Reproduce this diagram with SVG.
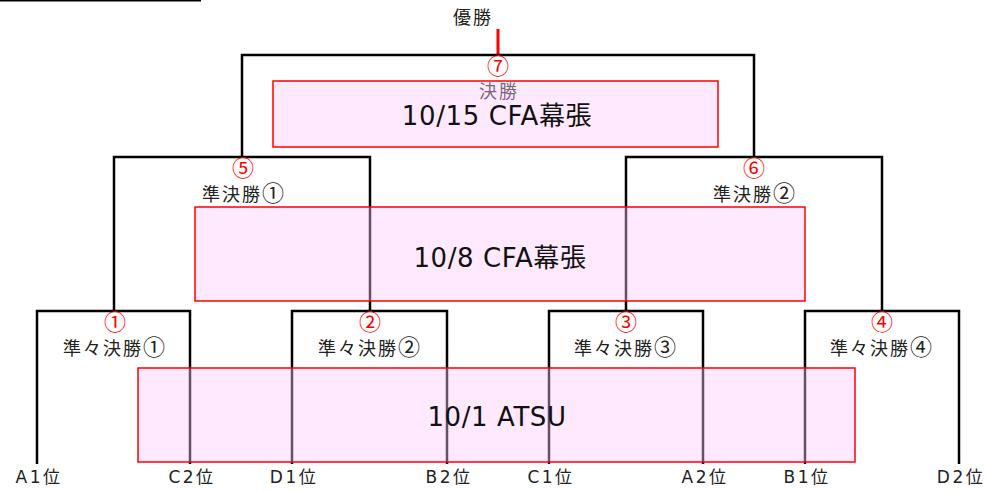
<svg xmlns="http://www.w3.org/2000/svg" width="986" height="492" viewBox="0 0 986 492">
<style>
.ln{stroke:#000;stroke-width:2.5;fill:none}
.red{stroke:#f00;stroke-width:3;fill:none}
.box{fill:rgb(255,200,255);fill-opacity:0.4;stroke:#f00;stroke-width:1.5}
.jp{font-family:"Noto Sans CJK JP","DejaVu Sans",sans-serif;font-size:18px;fill:#222;text-anchor:middle;letter-spacing:2px}
.c{font-size:22px}
.num{font-family:"Noto Sans CJK JP",sans-serif;font-size:22px;fill:#f00;text-anchor:middle}
.big{font-family:"DejaVu Sans","Noto Sans CJK JP",sans-serif;font-size:26px;fill:#111;text-anchor:middle;letter-spacing:0.6px}
.lbl{font-family:"DejaVu Sans","Noto Sans CJK JP",sans-serif;font-size:17px;fill:#222;text-anchor:middle;letter-spacing:2.5px}
</style>
<line x1="0" y1="0.5" x2="201" y2="0.5" stroke="#000" stroke-width="2"/>
<g id="connectors">
<line class="red" x1="498" y1="29" x2="498" y2="55"/>
<polyline class="ln" points="242,157 242,55 754,55 754,157"/>
<polyline class="ln" points="114,312 114,157 370,157 370,312"/>
<polyline class="ln" points="626,312 626,157 882,157 882,312"/>
<polyline class="ln" points="37,464 37,311 190,311 190,464"/>
<polyline class="ln" points="292,464 292,311 447,311 447,464"/>
<polyline class="ln" points="549,464 549,311 703,311 703,464"/>
<polyline class="ln" points="805,464 805,311 959,311 959,464"/>
</g>
<g id="champion">
<text class="jp" x="473" y="24">優勝</text>
</g>
<g id="final">
<text class="num" x="498" y="74">⑦</text>
<text class="jp" x="499" y="98">決勝</text>
<rect class="box" x="273" y="81" width="445" height="66"/>
<text class="big" x="497" y="125">10/15 CFA幕張</text>
</g>
<g id="semi1">
<text class="num" x="243" y="176">⑤</text>
<text class="jp" x="244" y="201">準決勝<tspan class="c">①</tspan></text>
</g>
<g id="semi2">
<text class="num" x="754" y="176">⑥</text>
<text class="jp" x="755" y="201">準決勝<tspan class="c">②</tspan></text>
</g>
<g id="semis">
<rect class="box" x="195" y="207" width="610" height="94"/>
<text class="big" x="500" y="267">10/8 CFA幕張</text>
</g>
<g id="qf1">
<text class="num" x="115" y="330">①</text>
<text class="jp" x="115" y="355">準々決勝<tspan class="c">①</tspan></text>
</g>
<g id="qf2">
<text class="num" x="370" y="330">②</text>
<text class="jp" x="370" y="355">準々決勝<tspan class="c">②</tspan></text>
</g>
<g id="qf3">
<text class="num" x="626" y="330">③</text>
<text class="jp" x="626" y="355">準々決勝<tspan class="c">③</tspan></text>
</g>
<g id="qf4">
<text class="num" x="882" y="330">④</text>
<text class="jp" x="882" y="355">準々決勝<tspan class="c">④</tspan></text>
</g>
<g id="quarters">
<rect class="box" x="138" y="368" width="717" height="94"/>
<text class="big" x="497" y="426">10/1 ATSU</text>
</g>
<g id="entrants">
<text class="lbl" x="39" y="483">A1位</text>
<text class="lbl" x="192" y="483">C2位</text>
<text class="lbl" x="294" y="483">D1位</text>
<text class="lbl" x="449" y="483">B2位</text>
<text class="lbl" x="551" y="483">C1位</text>
<text class="lbl" x="705" y="483">A2位</text>
<text class="lbl" x="807" y="483">B1位</text>
<text class="lbl" x="961" y="483">D2位</text>
</g>
</svg>
